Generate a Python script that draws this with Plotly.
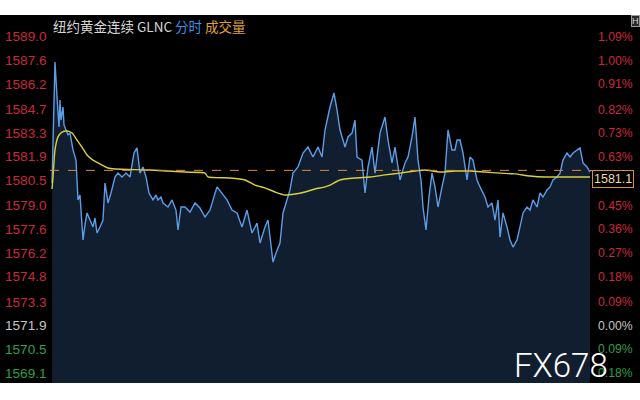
import plotly.graph_objects as go

# ---------------- data ----------------
price_minute = [0, 1, 3, 5, 7, 8, 9, 11, 12, 14, 16, 18, 21, 24, 26, 28, 29, 31, 33, 35,
                38, 41, 43, 45, 48, 51, 53, 56, 59, 63, 66, 70, 74, 78, 82, 85, 88, 91, 94, 97,
                101, 104, 106, 109, 111, 116, 120, 124, 126, 129, 133, 138, 143, 148, 153, 158, 165, 170, 175, 180,
                185, 190, 195, 200, 205, 208, 213, 216, 219, 221, 224, 228, 231, 235, 238, 241, 246, 251, 256, 261,
                266, 270, 273, 278, 282, 285, 288, 293, 296, 300, 303, 305, 310, 313, 316, 320, 323, 328, 333, 336,
                340, 343, 348, 353, 356, 360, 363, 366, 369, 371, 374, 377, 380, 383, 386, 390, 393, 396, 400, 403,
                405, 408, 411, 415, 418, 421, 425, 428, 433, 436, 440, 443, 446, 448, 451, 455, 458, 461, 465, 468,
                471, 475, 478, 481, 485, 488, 491, 495, 498, 501, 505, 508, 511, 515, 518, 521, 525, 528, 531, 535, 538]
price = [1580.35, 1582.31, 1587.52, 1585.45, 1583.67, 1585.27, 1584.08, 1584.85, 1583.79, 1583.49, 1583.20, 1583.31, 1582.31, 1581.71, 1579.35, 1579.64, 1578.75, 1576.98, 1577.87, 1578.58,
         1578.16, 1577.75, 1578.28, 1577.39, 1577.75, 1578.16, 1580.35, 1579.17, 1579.76, 1580.71, 1580.94, 1580.71, 1580.94, 1580.71, 1582.13, 1582.43, 1580.94, 1581.30, 1580.71, 1579.76,
         1579.35, 1579.64, 1579.35, 1579.52, 1579.17, 1578.93, 1579.35, 1578.75, 1577.57, 1578.93, 1578.93, 1578.63, 1579.17, 1578.87, 1578.34, 1578.75, 1580.12, 1579.76, 1579.35, 1578.75,
         1578.58, 1577.75, 1578.75, 1577.39, 1577.98, 1576.80, 1577.75, 1578.16, 1576.56, 1575.67, 1576.21, 1576.80, 1578.58, 1579.35, 1579.94, 1580.94, 1581.30, 1582.13, 1582.48, 1581.89,
         1582.48, 1581.89, 1583.49, 1584.85, 1585.68, 1584.68, 1583.49, 1582.48, 1583.08, 1583.31, 1584.08, 1581.89, 1581.71, 1579.76, 1581.30, 1582.48, 1580.94, 1583.31, 1584.26, 1582.90,
         1581.54, 1582.48, 1580.53, 1581.54, 1581.89, 1583.08, 1584.26, 1581.71, 1580.53, 1578.93, 1577.57, 1579.52, 1580.94, 1580.12, 1578.93, 1580.12, 1580.94, 1583.49, 1582.31, 1582.31,
         1582.90, 1582.90, 1582.13, 1580.53, 1581.89, 1581.71, 1580.53, 1580.12, 1579.52, 1578.93, 1579.17, 1578.16, 1579.35, 1577.15, 1578.58, 1577.75, 1576.98, 1576.56, 1576.98, 1577.75,
         1578.58, 1578.93, 1578.75, 1579.35, 1578.93, 1579.76, 1579.52, 1579.94, 1580.12, 1580.53, 1580.71, 1580.94, 1581.71, 1582.13, 1581.89, 1582.13, 1582.31, 1582.43, 1581.54, 1581.30, 1581.00]

avg_minute = [0, 1, 3, 6, 10, 15, 20, 25, 30, 35, 41, 48, 56, 63, 98, 133, 153, 156, 178, 193,
              203, 213, 223, 233, 243, 253, 263, 273, 278, 288, 303, 318, 333, 348, 363, 373, 388, 403, 418, 433,
              448, 463, 478, 493, 538]
avg_price = [1580.00, 1580.70, 1582.31, 1583.08, 1583.37, 1583.43, 1583.31, 1582.90, 1582.48, 1582.01, 1581.71, 1581.48, 1581.24, 1581.18, 1581.12, 1581.00, 1580.94, 1580.71, 1580.65, 1580.53,
             1580.23, 1580.06, 1579.82, 1579.64, 1579.70, 1579.82, 1580.00, 1580.12, 1580.23, 1580.53, 1580.65, 1580.71, 1580.83, 1580.94, 1581.06, 1581.12, 1581.00, 1581.06, 1581.06, 1581.00,
             1580.94, 1580.89, 1580.77, 1580.71, 1580.71]

ref_price = 1571.9
dash_level = 1581.1
last_label = "1581.1"
left_ticks = [1589.0, 1587.6, 1586.2, 1584.7, 1583.3, 1581.9, 1580.5, 1579.0, 1577.6,
              1576.2, 1574.8, 1573.3, 1571.9, 1570.5, 1569.1]
right_ticks = ["1.09%", "1.00%", "0.91%", "0.82%", "0.73%", "0.63%", "0.54%", "0.45%", "0.36%",
               "0.27%", "0.18%", "0.09%", "0.00%", "0.09%", "0.18%"]
title_parts = [("纽约黄金连续 GLNC", "#d6d6d6"), ("分时", "#3d8ee8"), ("成交量", "#e0a33a")]
watermark = "FX678"

# ---------------- figure ----------------
W, H = 640, 400
ML, MR, MT, MB = 50, 48, 15, 17
pw = W - ML - MR
ph = H - MT - MB

RED, GREEN, GRAY = "#c8283c", "#2f9e4c", "#c4c4c4"

fig = go.Figure()
fig.add_trace(go.Scatter(x=price_minute, y=price, mode="lines",
                         line=dict(color="#5c9de8", width=1.4),
                         fill="tozeroy", fillcolor="rgba(28,48,78,0.62)",
                         hoverinfo="skip", showlegend=False))
fig.add_trace(go.Scatter(x=avg_minute, y=avg_price, mode="lines",
                         line=dict(color="#d9cf3c", width=1.4, shape="spline", smoothing=0.6),
                         hoverinfo="skip", showlegend=False))

shapes = [
    dict(type="rect", xref="paper", yref="paper", x0=-ML / pw, x1=1 + MR / pw, y0=0, y1=1,
         fillcolor="#000000", line=dict(width=0), layer="below"),
    dict(type="line", xref="paper", yref="y", x0=0, x1=1, y0=dash_level, y1=dash_level,
         line=dict(color="#d98a3c", width=1, dash="dash")),
]

ann = []
for v, pct in zip(left_ticks, right_ticks):
    col = RED if v > ref_price + 1e-9 else (GRAY if abs(v - ref_price) < 1e-9 else GREEN)
    ann.append(dict(xref="paper", yref="y", x=-1 / pw, y=v, text=f"{v:.1f}", showarrow=False,
                    xanchor="right", yanchor="middle",
                    font=dict(family="Liberation Sans", size=13.6, color=col)))
    ann.append(dict(xref="paper", yref="y", x=1 + 4 / pw, y=v, text=pct, showarrow=False,
                    xanchor="left", yanchor="middle",
                    font=dict(family="Liberation Sans", size=12.2, color=col)))

title_html = " ".join(f"<span style='color:{c}'>{t}</span>" for t, c in title_parts)
ann.append(dict(xref="paper", yref="paper", x=1 / pw, y=1 + 1 / ph, text=title_html, showarrow=False,
                xanchor="left", yanchor="top",
                font=dict(family="Noto Sans CJK SC", size=13.5, color="#d6d6d6")))

ann.append(dict(xref="paper", yref="y", x=1, y=dash_level, yshift=-9, text=last_label, showarrow=False,
                xanchor="left", yanchor="middle", bgcolor="#000000", bordercolor="#d9902e",
                borderwidth=1, borderpad=1,
                font=dict(family="Liberation Sans", size=12.5, color="#f2d6a8")))

ann.append(dict(xref="paper", yref="paper", x=1 + 18 / pw, y=-4 / ph, text=watermark, showarrow=False,
                xanchor="right", yanchor="bottom",
                font=dict(family="Roboto", size=33, color="#ffffff", weight=300)))

ann.append(dict(xref="paper", yref="paper", x=1 + MR / pw, y=1, text="H", showarrow=False,
                xanchor="right", yanchor="top", bgcolor="#2a2a2a", bordercolor="#9a9a9a",
                borderwidth=1, borderpad=0,
                font=dict(family="Liberation Sans", size=9, color="#dddddd")))

fig.update_layout(
    width=W, height=H,
    margin=dict(l=ML, r=MR, t=MT, b=MB),
    paper_bgcolor="#ffffff", plot_bgcolor="#000000",
    xaxis=dict(range=[-2, 540], visible=False, fixedrange=True),
    yaxis=dict(range=[1568.51, 1590.30], visible=False, fixedrange=True),
    shapes=shapes, annotations=ann, showlegend=False,
)

fig.write_html("out.html", config={"displayModeBar": False},
               post_script="document.body.style.margin='0';document.body.style.overflow='hidden';")
